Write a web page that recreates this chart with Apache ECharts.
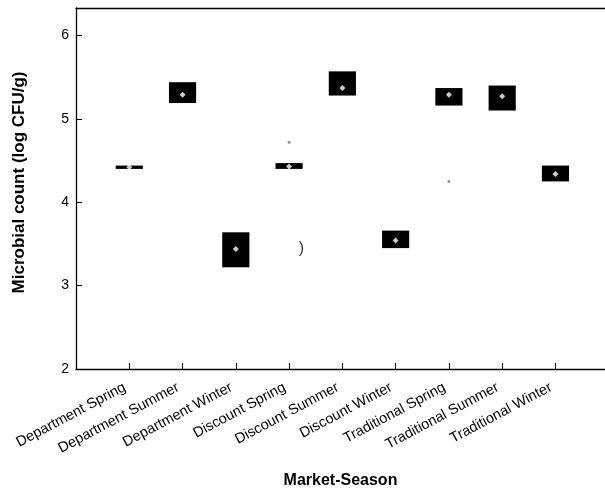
<!DOCTYPE html>
<html>
<head>
    <meta charset="utf-8">
    <title>Microbial count</title>
    <script src="https://cdn.jsdelivr.net/npm/echarts@6/dist/echarts.min.js"></script>
    <style type="text/css">
    html, body {margin:0;padding:0;background:#fff;}
    #main {width:605px;height:490px;}
    </style>
</head>
<body>
    <div id="main"></div>
    <script>
    var categories = ['Department Spring','Department Summer','Department Winter',
        'Discount Spring','Discount Summer','Discount Winter',
        'Traditional Spring','Traditional Summer','Traditional Winter'];
    // box bottom / top and mean, log CFU/g
    var boxLow  = [4.40, 5.19, 3.22, 4.40, 5.28, 3.45, 5.16, 5.10, 4.25];
    var boxHigh = [4.44, 5.44, 3.64, 4.47, 5.57, 3.66, 5.37, 5.40, 4.44];
    var means   = [4.42, 5.29, 3.44, 4.43, 5.37, 3.54, 5.29, 5.27, 4.34];
    // stray points [position, value]
    var outliers = [[4, 4.72], [7, 4.25]];
    var strayMark = [[4.23, 3.45]];

    var font = 'Liberation Sans, Arial, sans-serif';
    var chart = echarts.init(document.getElementById('main'));

    var boxData = [], meanData = [];
    for (var i = 0; i < categories.length; i++) {
        boxData.push([i + 1, boxLow[i], boxHigh[i]]);
        meanData.push([i + 1, means[i]]);
    }

    var option = {
        backgroundColor: '#fff',
        animation: false,
        grid: {left: 76, right: 0, top: 8, bottom: 121, outerBoundsMode: 'none', containLabel: false},
        xAxis: [{
            type: 'value',
            min: 0,
            max: 9.93,
            interval: 1,
            splitLine: {show: false},
            axisLine: {lineStyle: {color: '#000', width: 1.3}},
            axisTick: {inside: true, length: 6, lineStyle: {color: '#000'}},
            axisLabel: {
                rotate: 28,
                margin: 15,
                padding: [0, 5, 0, 0],
                color: '#000',
                fontFamily: font,
                fontSize: 14.5,
                showMaxLabel: false,
                formatter: function (v) { return categories[v - 1] || ''; }
            },
            name: 'Market-Season',
            nameLocation: 'middle',
            nameGap: 104,
            nameTextStyle: {color: '#000', fontFamily: font, fontSize: 16, fontWeight: 'bold'}
        }, {
            type: 'value',
            position: 'top',
            min: 0,
            max: 9.93,
            axisLine: {show: true, lineStyle: {color: '#000', width: 1.3}},
            axisTick: {show: false},
            axisLabel: {show: false},
            splitLine: {show: false}
        }],
        yAxis: {
            type: 'value',
            min: 2,
            max: 6.33,
            interval: 1,
            splitLine: {show: false},
            axisLine: {show: true, lineStyle: {color: '#000', width: 1.3}},
            axisTick: {show: true, inside: true, length: 6, lineStyle: {color: '#000'}},
            axisLabel: {
                color: '#000',
                fontFamily: font,
                fontSize: 14,
                margin: 7,
                showMaxLabel: false,
                formatter: function (v) { return Number.isInteger(v) ? v : ''; }
            },
            name: 'Microbial count (log CFU/g)',
            nameLocation: 'middle',
            nameGap: 48,
            nameTextStyle: {color: '#000', fontFamily: font, fontSize: 17, fontWeight: 'bold', padding: [0, 0, 0, 12]}
        },
        series: [{
            type: 'custom',
            data: boxData,
            renderItem: function (params, api) {
                var lo = api.coord([api.value(0), api.value(1)]);
                var hi = api.coord([api.value(0), api.value(2)]);
                var w = api.size([1, 0])[0] * 0.51;
                return {
                    type: 'rect',
                    shape: {x: lo[0] - w / 2, y: hi[1], width: w, height: Math.max(lo[1] - hi[1], 3)},
                    style: {fill: '#000'}
                };
            }
        }, {
            type: 'scatter',
            data: meanData,
            symbol: 'diamond',
            symbolSize: 6,
            itemStyle: {color: '#fff'}
        }, {
            type: 'scatter',
            data: outliers,
            symbol: 'circle',
            symbolSize: 3,
            itemStyle: {color: '#777'}
        }, {
            type: 'scatter',
            data: strayMark,
            symbolSize: 0,
            label: {show: true, position: 'inside', formatter: ')', color: '#000', fontFamily: font, fontSize: 16}
        }]
    };
    chart.setOption(option);
    </script>
</body>
</html>
